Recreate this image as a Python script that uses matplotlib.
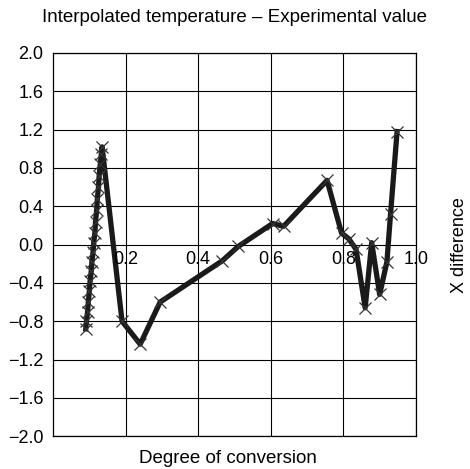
import matplotlib
matplotlib.use("Agg")
import matplotlib.pyplot as plt

plt.rcParams["font.family"] = ["Liberation Sans", "DejaVu Sans"]

# degree of conversion and X difference
conv = [0.090, 0.092, 0.095, 0.097, 0.100, 0.102, 0.105, 0.107, 0.110, 0.112,
        0.115, 0.117, 0.120, 0.122, 0.125, 0.127, 0.130, 0.133, 0.135,
        0.190, 0.240, 0.295, 0.466, 0.510, 0.605, 0.635, 0.755,
        0.795, 0.815, 0.835, 0.860, 0.878, 0.900, 0.920, 0.930, 0.948]
xdiff = [-0.88, -0.80, -0.70, -0.60, -0.48, -0.38, -0.28, -0.18, -0.08, 0.02,
         0.12, 0.24, 0.36, 0.48, 0.60, 0.72, 0.84, 0.95, 1.02,
         -0.80, -1.04, -0.60, -0.17, -0.02, 0.22, 0.19, 0.67,
         0.12, 0.06, -0.05, -0.66, 0.02, -0.52, -0.18, 0.32, 1.18]

xticks = [0.2, 0.4, 0.6, 0.8, 1.0]
xtick_labels = ["0.2", "0.4", "0.6", "0.8", "1.0"]
yticks = [-2.0, -1.6, -1.2, -0.8, -0.4, 0.0, 0.4, 0.8, 1.2, 1.6, 2.0]


def main():
    fig = plt.figure(figsize=(4.70, 4.69), dpi=100)
    ax = fig.add_axes([0.113, 0.070, 0.772, 0.817])

    ax.plot(conv, xdiff, color="#1a1a1a", linewidth=3.8, solid_joinstyle="round",
            marker="x", markersize=8.5, markeredgewidth=0.9, markeredgecolor="#333333")

    ax.set_xlim(0, 1.0)
    ax.set_ylim(-2.0, 2.0)
    ax.set_yticks(yticks)
    ax.set_yticklabels([f"{v:.1f}".replace("-", "\u2212") for v in yticks], fontsize=13)
    ax.set_xticks(xticks)
    ax.set_xticklabels([])
    ax.tick_params(axis="both", length=0, pad=7)
    ax.grid(True, color="black", linewidth=0.8)
    for s in ax.spines.values():
        s.set_linewidth(0.9)

    # tick labels sit on the zero line inside the plot
    for v, lab in zip(xticks, xtick_labels):
        ax.text(v, -0.07, lab, ha="center", va="top", fontsize=13)

    fig.text(0.50, 1 - 18 / 469, "Interpolated temperature \u2013 Experimental value",
             ha="center", va="center", fontsize=13.5)
    fig.text(0.485, 1 - 458 / 469, "Degree of conversion",
             ha="center", va="center", fontsize=13.5)
    ax.text(1.12, 0.0, "X difference", transform=ax.get_yaxis_transform(),
            rotation=90, ha="center", va="center", fontsize=13)

    fig.savefig("out.png", dpi=100)


if __name__ == "__main__":
    main()
